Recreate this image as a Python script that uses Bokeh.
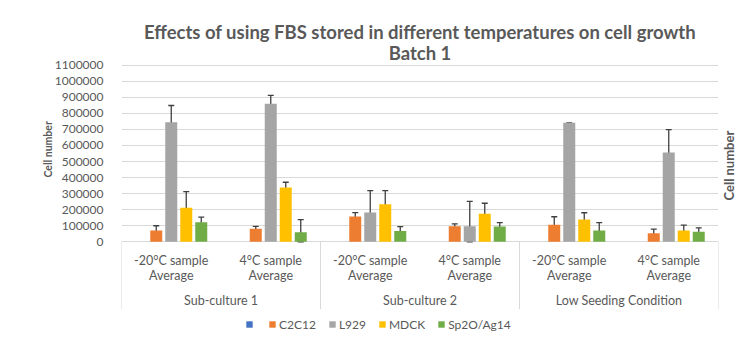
import math
from bokeh.plotting import figure
from bokeh.models import (Range1d, FixedTicker, BasicTickFormatter, LinearAxis,
                          Whisker, ColumnDataSource, Legend, LegendItem, Title,
                          TeeHead)
from bokeh.core.properties import value
from bokeh.embed import file_html
from bokeh.resources import INLINE

# ---------------- data ----------------
groups = ["Sub-culture 1", "Sub-culture 2", "Low Seeding Condition"]
samples = ["-20°C sample\nAverage", "4°C sample\nAverage"]
title_line1 = "Effects of using FBS stored in different temperatures on cell growth"
title_line2 = "Batch 1"
y_label = "Cell number"
y_ticks = [0, 100000, 200000, 300000, 400000, 500000, 600000,
           700000, 800000, 900000, 1000000, 1100000]

series_names = ["", "C2C12", "L929", "MDCK", "Sp2O/Ag14"]
series_colors = ["#4472C4", "#ED7D31", "#A5A5A5", "#FFC000", "#70AD47"]

# order of categories: SC1 -20, SC1 4, SC2 -20, SC2 4, LSC -20, LSC 4
blank = [0, 0, 0, 0, 0, 0]
c2c12 = [70000, 82000, 157000, 97000, 106000, 54000]
l929 = [745000, 860000, 182000, 97000, 741000, 556000]
mdck = [212000, 338000, 234000, 174000, 139000, 70000]
sp2 = [122000, 60000, 68000, 95000, 70000, 62000]

c2c12_up = [30000, 14000, 25000, 15000, 50000, 25000]
c2c12_dn = [28000, 17000, 30000, 15000, 48000, 28000]
l929_up = [104000, 52000, 137000, 155000, 0, 143000]
l929_dn = [104000, 50000, 132000, 97000, 345000, 204000]
mdck_up = [100000, 33000, 85000, 66000, 42000, 34000]
mdck_dn = [100000, 31000, 80000, 64000, 48000, 37000]
sp2_up = [32000, 78000, 26000, 24000, 50000, 25000]
sp2_dn = [35000, 60000, 18000, 15000, 42000, 12000]

values = [blank, c2c12, l929, mdck, sp2]
ups = [None, c2c12_up, l929_up, mdck_up, sp2_up]
dns = [None, c2c12_dn, l929_dn, mdck_dn, sp2_dn]

# ---------------- layout constants ----------------
W, H = 750, 343
LEFT, RIGHT_EDGE = 121, 718
TOP = 62
ZERO_PX = 241.3
PX_PER_100K = 16.055
n_cat = len(groups) * len(samples)
px_per_unit = (RIGHT_EDGE - LEFT) / n_cat


def px_to_y(py):
    return (ZERO_PX - py) / PX_PER_100K * 100000


y_end = px_to_y(TOP)
y_start = px_to_y(H)

TEXT = "#595959"
FONT = "Lato"

p = figure(width=W, height=H, output_backend="svg", toolbar_location=None,
           x_range=Range1d(0, n_cat), y_range=Range1d(y_start, y_end),
           x_axis_location=None, min_border_left=LEFT,
           min_border_right=W - RIGHT_EDGE, min_border_top=TOP,
           min_border_bottom=0, outline_line_color=None, title=None)
p.background_fill_color = "white"
p.border_fill_color = "white"

# y axis
yax = p.yaxis[0]
yax.ticker = FixedTicker(ticks=y_ticks)
yax.formatter = BasicTickFormatter(use_scientific=False)
yax.axis_line_color = None
yax.major_tick_line_color = None
yax.minor_tick_line_color = None
yax.major_label_text_font = FONT
yax.major_label_text_font_size = "12px"
yax.major_label_text_color = TEXT
yax.major_label_standoff = 12

# left axis title
p.add_layout(Title(text=y_label, align="left", offset=343 - 177,
                   text_font=FONT, text_font_size="10.5px",
                   text_font_style="bold", text_color=TEXT, standoff=-5), "left")

# right-side axis carrying only the label
label_y = px_to_y(200)
rax = LinearAxis(ticker=FixedTicker(ticks=[label_y]),
                 major_label_overrides={label_y: y_label})
rax.axis_line_color = None
rax.major_tick_line_color = None
rax.minor_tick_line_color = None
rax.major_tick_out = 0
rax.major_tick_in = 0
rax.minor_tick_out = 0
rax.minor_tick_in = 0
rax.major_label_orientation = math.pi / 2
rax.major_label_text_font = FONT
rax.major_label_text_font_size = "13px"
rax.major_label_text_font_style = "bold"
rax.major_label_text_color = TEXT
rax.major_label_standoff = 10
p.add_layout(rax, "right")

p.xgrid.visible = False
p.ygrid.ticker = FixedTicker(ticks=y_ticks)
p.ygrid.grid_line_color = "#D9D9D9"
p.ygrid.grid_line_width = 1

# bars + error bars
bar_step = 15 / px_per_unit
bar_w = 12 / px_per_unit
centers = [i + 0.5 for i in range(n_cat)]
legend_items = []
for s, (name, color, vals) in enumerate(zip(series_names, series_colors, values)):
    xs = [c + (s - 2) * bar_step for c in centers]
    src = ColumnDataSource(dict(x=xs, top=vals))
    r = p.vbar(x="x", top="top", bottom=0, width=bar_w, source=src,
               fill_color=color, line_color=None)
    legend_items.append(LegendItem(label=name if name else " ", renderers=[r]))
    if ups[s] is not None:
        esrc = ColumnDataSource(dict(
            x=xs,
            upper=[v + u for v, u in zip(vals, ups[s])],
            lower=[v - d for v, d in zip(vals, dns[s])]))
        wh = Whisker(base="x", upper="upper", lower="lower", source=esrc,
                     dimension="height", line_color="#404040", line_width=1.3,
                     upper_head=TeeHead(size=6, line_color="#404040", line_width=1.3),
                     lower_head=TeeHead(size=6, line_color="#404040", line_width=1.3))
        p.add_layout(wh)

# category separators
sep_bottom = px_to_y(308.7)
sep_x = [float(g * len(samples)) for g in range(len(groups) + 1)]
p.segment(x0=sep_x, y0=[0] * len(sep_x), x1=sep_x, y1=[sep_bottom] * len(sep_x),
          line_color="#D9D9D9", line_width=1)

# category labels (two lines each)
cat_labels = [s for g in groups for s in samples]
line1 = [c.split("\n")[0] for c in cat_labels]
line2 = [c.split("\n")[1] for c in cat_labels]
for txt, off in ((line1, 260 - ZERO_PX), (line2, 275 - ZERO_PX)):
    p.text(x=centers, y=[0] * n_cat, text=txt, y_offset=off,
           text_align="center", text_baseline="middle", text_font=value(FONT),
           text_font_size="12.5px", text_color=TEXT)
group_centers = [g * len(samples) + len(samples) / 2 for g in range(len(groups))]
p.text(x=group_centers, y=[0] * len(groups), text=groups, y_offset=300 - ZERO_PX,
       text_align="center", text_baseline="middle", text_font=value(FONT),
       text_font_size="12.5px", text_color=TEXT)

# legend
legend = Legend(items=legend_items, orientation="horizontal",
                location=(245 - LEFT, H - 332), margin=0, padding=0,
                spacing=12, label_standoff=3, glyph_width=8, glyph_height=8,
                label_height=16, label_width=0, label_text_font=FONT,
                label_text_font_size="12px", label_text_color=TEXT,
                border_line_color=None, background_fill_alpha=0)
p.add_layout(legend)

# titles (later added = further from the plot)
p.add_layout(Title(text=title_line2, align="center", text_font=FONT,
                   text_font_size="18.5px", text_font_style="bold",
                   text_color=TEXT, standoff=-3, offset=5), "above")
p.add_layout(Title(text=title_line1, align="center", text_font=FONT,
                   text_font_size="18.5px", text_font_style="bold",
                   text_color=TEXT, standoff=-2, offset=5), "above")

open("out.html", "w").write(file_html(p, INLINE))
